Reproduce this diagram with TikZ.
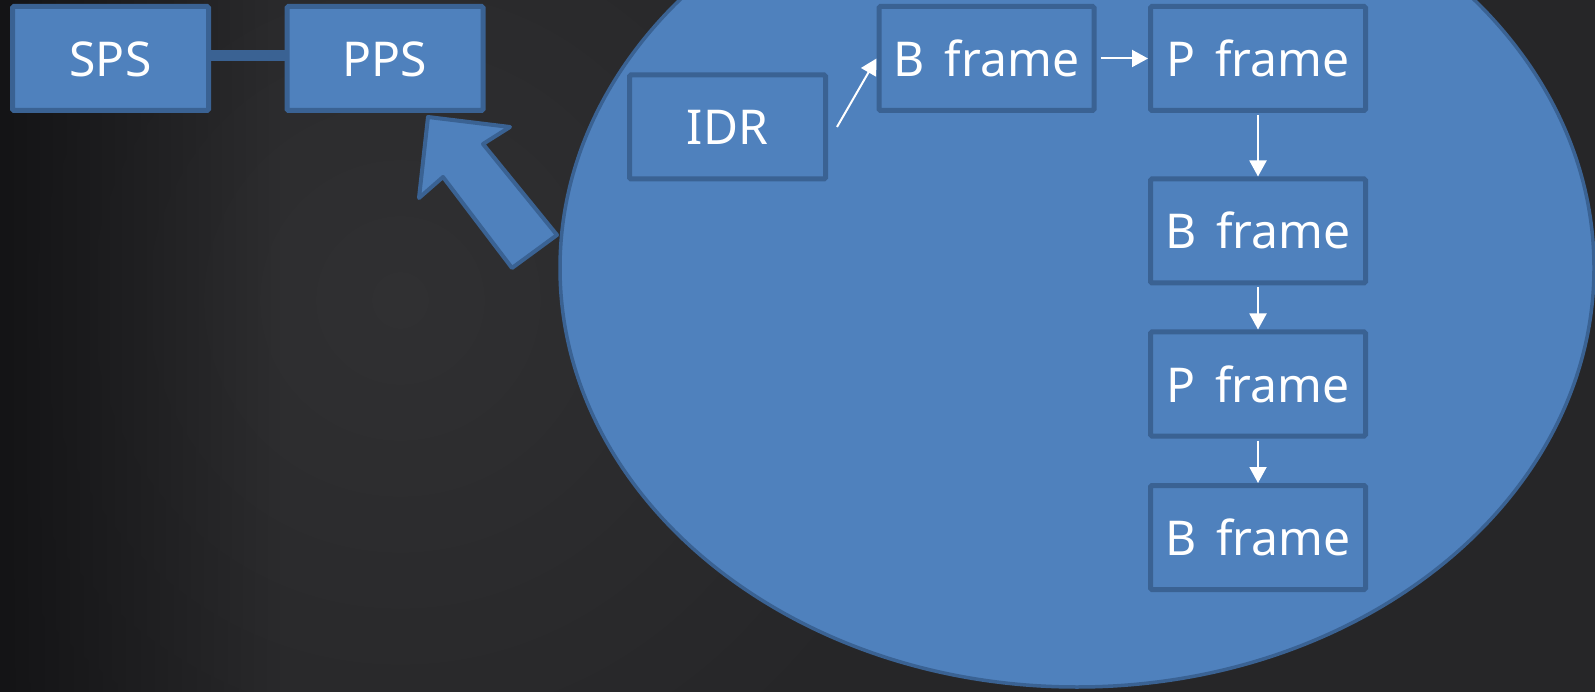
\documentclass[tikz,border=0pt]{standalone}
\usepackage{fontspec}
\setmainfont{Noto Sans}[WordSpace=1.6]
\usetikzlibrary{arrows.meta,fadings}
\definecolor{board}{HTML}{262628}
\definecolor{boarddark}{HTML}{141416}
\definecolor{boardlight}{HTML}{303032}
\definecolor{cellfill}{HTML}{4F81BD}
\definecolor{cellline}{HTML}{3A6293}

\begin{document}
\begin{tikzpicture}[x=1pt,y=-1pt,
  box/.style={draw=cellline, line width=5pt, fill=cellfill, rounded corners=1.5pt,
    inner sep=0pt, text=white, font=\fontsize{48}{48}\selectfont,
    text height=36pt, text depth=0pt, minimum height=104pt},
  narrow/.style={box, minimum width=196pt},
  wide/.style={box, minimum width=215pt},
  flow/.style={white, line width=2pt, -{Triangle[length=16pt,width=17pt]}},
]
\useasboundingbox (0,0) rectangle (1595,692);

% chalkboard background
\fill[board] (0,0) rectangle (1595,692);
\shade[inner color=boardlight, outer color=board] (400,300) circle (560);
\fill[boarddark, path fading=east] (0,0) rectangle (280,692);

% block arrow pointing up-left towards PPS
\draw[cellline, line width=4pt, fill=cellfill, line join=round]
  (428,117) -- (510,127) -- (483,144) -- (557,235) -- (512,268)
  -- (443,177) -- (419,198) -- cycle;

% the large oval holding the frame sequence
\draw[cellline, line width=3.5pt, fill=cellfill] (1077,268) ellipse [x radius=517, y radius=419];

% parameter sets
\node[narrow] (sps) at (110.5,58.5) {SPS};
\node[narrow] (pps) at (385,58.5) {PPS};

% frames
\node[narrow] (idr) at (727.5,127) {IDR};
\node[wide] (b1) at (986.5,58.5) {B frame};
\node[wide] (p1) at (1258,58.5) {P frame};
\node[wide] (b2) at (1258,231) {B frame};
\node[wide] (p2) at (1258,384) {P frame};
\node[wide] (b3) at (1258,537.5) {B frame};

% connectors
\draw[cellline, line width=11pt] ([yshift=2.5pt]sps.east) -- ([yshift=2.5pt]pps.west);
\draw[flow] ([xshift=9pt]idr.east) -- (b1.west);
\draw[flow, shorten <=4pt] (b1.east) -- (p1.west);
\draw[flow, shorten <=2pt] (p1.south) -- (b2.north);
\draw[flow, shorten <=2pt] (b2.south) -- (p2.north);
\draw[flow, shorten <=2pt] (p2.south) -- (b3.north);
\end{tikzpicture}
\end{document}
